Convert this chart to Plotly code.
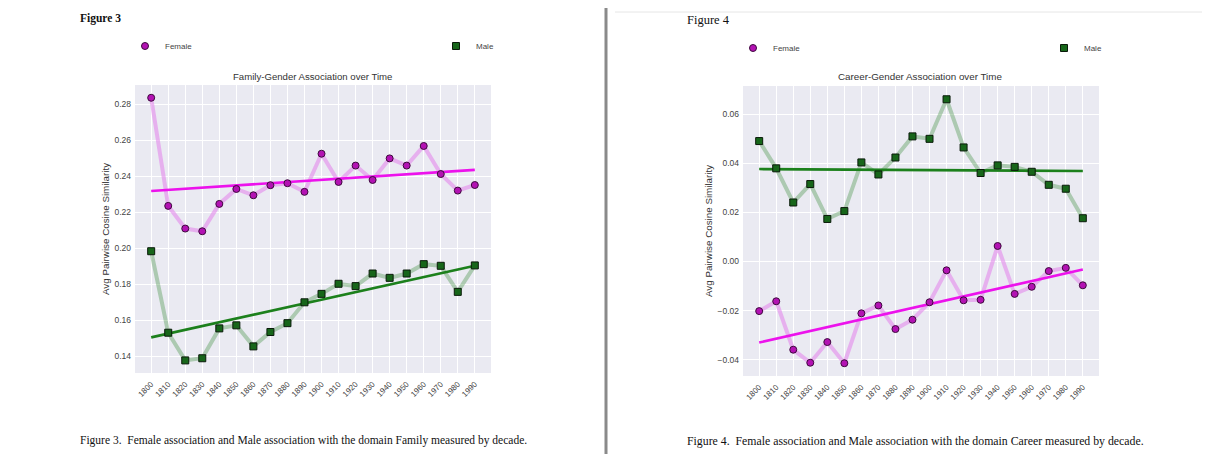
import plotly.graph_objects as go

W, H = 1210, 454
OFF = 8  # page body margin applied by the browser

decades = [1800, 1810, 1820, 1830, 1840, 1850, 1860, 1870, 1880, 1890,
           1900, 1910, 1920, 1930, 1940, 1950, 1960, 1970, 1980, 1990]
decade_labels = [str(d) for d in decades]

family_female = [0.2837, 0.2236, 0.2110, 0.2095, 0.2247, 0.2330, 0.2295, 0.2351, 0.2362, 0.2314,
                 0.2526, 0.2369, 0.2460, 0.2380, 0.2500, 0.2460, 0.2569, 0.2413, 0.2321, 0.2352]
family_male = [0.1984, 0.1531, 0.1377, 0.1389, 0.1555, 0.1572, 0.1455, 0.1535, 0.1584, 0.1700,
               0.1747, 0.1803, 0.1790, 0.1860, 0.1836, 0.1860, 0.1912, 0.1903, 0.1758, 0.1905]
career_female = [-0.0202, -0.0162, -0.0359, -0.0412, -0.0328, -0.0414, -0.0211, -0.0179, -0.0275, -0.0237,
                 -0.0166, -0.0036, -0.0158, -0.0156, 0.0063, -0.0132, -0.0103, -0.0039, -0.0026, -0.0097]
career_male = [0.0490, 0.0379, 0.0240, 0.0315, 0.0173, 0.0205, 0.0403, 0.0354, 0.0423, 0.0509,
               0.0499, 0.0660, 0.0464, 0.0360, 0.0391, 0.0385, 0.0365, 0.0312, 0.0296, 0.0176]

trend_x = [1800, 1990]
family_female_trend = [0.2319, 0.2436]
family_male_trend = [0.1505, 0.1903]
career_female_trend = [-0.0330, -0.0033]
career_male_trend = [0.0376, 0.0368]

FEM_LINE = "rgba(228,140,236,0.62)"
FEM_MARK = "#b312b3"
FEM_EDGE = "#3d0a3d"
FEM_TREND = "#ec12ec"
MAL_LINE = "rgba(40,130,40,0.32)"
MAL_MARK = "#17661a"
MAL_EDGE = "#0a1a0a"
MAL_TREND = "#1c801c"

fig = go.Figure()


def add_panel(xa, ya, fem, mal, fem_tr, mal_tr, leg_f, leg_m):
    fig.add_trace(go.Scatter(x=decades, y=fem, mode="lines", line=dict(color=FEM_LINE, width=4),
                             xaxis=xa, yaxis=ya, showlegend=False, hoverinfo="skip"))
    fig.add_trace(go.Scatter(x=decades, y=mal, mode="lines", line=dict(color=MAL_LINE, width=4),
                             xaxis=xa, yaxis=ya, showlegend=False, hoverinfo="skip"))
    fig.add_trace(go.Scatter(x=trend_x, y=fem_tr, mode="lines", line=dict(color=FEM_TREND, width=2.6),
                             xaxis=xa, yaxis=ya, showlegend=False))
    fig.add_trace(go.Scatter(x=trend_x, y=mal_tr, mode="lines", line=dict(color=MAL_TREND, width=2.6),
                             xaxis=xa, yaxis=ya, showlegend=False))
    fig.add_trace(go.Scatter(x=decades, y=fem, mode="markers", name="Female",
                             marker=dict(symbol="circle", size=7, color=FEM_MARK,
                                         line=dict(color=FEM_EDGE, width=1)),
                             xaxis=xa, yaxis=ya, legend=leg_f))
    fig.add_trace(go.Scatter(x=decades, y=mal, mode="markers", name="Male",
                             marker=dict(symbol="square", size=7, color=MAL_MARK,
                                         line=dict(color=MAL_EDGE, width=1)),
                             xaxis=xa, yaxis=ya, legend=leg_m))


add_panel("x", "y", family_female, family_male, family_female_trend, family_male_trend,
          "legend", "legend2")
add_panel("x2", "y2", career_female, career_male, career_female_trend, career_male_trend,
          "legend3", "legend4")


def px(x):
    return (x - OFF) / W


def py(y):
    return 1 - (y - OFF) / H


SANS = "Liberation Sans, Arial, sans-serif"
SERIF = "Liberation Serif, Times New Roman, serif"
TICKFONT = dict(family=SANS, size=8.5, color="#444")
xcommon = dict(tickmode="array", tickvals=decades, ticktext=decade_labels, tickangle=-45,
               range=[1790.5, 1999.5], showgrid=True, gridcolor="white", gridwidth=1,
               zeroline=False, showline=False, ticks="", ticklabelstandoff=4,
               tickfont=dict(family=SANS, size=8, color="#444"))
ycommon = dict(dtick=0.02, tickformat=".2f", showgrid=True, gridcolor="white", gridwidth=1,
               zeroline=False, showline=False, ticks="", ticklabelstandoff=3, tickfont=TICKFONT)


def leg(xc, yc):
    # symbol centre sits ~20px right of legend's left edge
    return dict(orientation="h", x=px(xc - 20), y=py(yc), xanchor="left", yanchor="middle",
                bgcolor="rgba(0,0,0,0)", borderwidth=0,
                font=dict(family=SANS, size=8, color="#444"))


fig.update_layout(
    width=W, height=H, margin=dict(l=0, r=0, t=0, b=0, autoexpand=False),
    paper_bgcolor="white", plot_bgcolor="#EAEAF2",
    xaxis=dict(domain=[px(135), px(491)], anchor="y", **xcommon),
    yaxis=dict(domain=[py(373), py(85)], anchor="x", range=[0.1307, 0.2908], **ycommon),
    xaxis2=dict(domain=[px(743), px(1099)], anchor="y2", **xcommon),
    yaxis2=dict(domain=[py(376), py(86)], anchor="x2", range=[-0.0466, 0.0714], **ycommon),
    legend=leg(145, 46),
    legend2=leg(456, 46),
    legend3=leg(753, 48),
    legend4=leg(1064, 48),
)

annotations = [
    dict(text="<b>Figure 3</b>", x=px(78), y=py(19), xanchor="left", yanchor="middle",
         font=dict(family=SERIF, size=11.5, color="#111")),
    dict(text="Figure 4", x=px(685), y=py(20), xanchor="left", yanchor="middle",
         font=dict(family=SERIF, size=12.5, color="#111")),
    dict(text="Family-Gender Association over Time", x=px(312), y=py(76), xanchor="center",
         yanchor="middle", font=dict(family=SANS, size=9.6, color="#333")),
    dict(text="Career-Gender Association over Time", x=px(920), y=py(77), xanchor="center",
         yanchor="middle", font=dict(family=SANS, size=9.8, color="#333")),
    dict(text="Avg Pairwise Cosine Similarity", x=px(105), y=py(229), textangle=-90,
         xanchor="center", yanchor="middle", font=dict(family=SANS, size=9.8, color="#333")),
    dict(text="Avg Pairwise Cosine Similarity", x=px(709), y=py(231), textangle=-90,
         xanchor="center", yanchor="middle", font=dict(family=SANS, size=9.8, color="#333")),
    dict(text="Figure 3.  Female association and Male association with the domain Family measured by decade.",
         x=px(78), y=py(440), xanchor="left", yanchor="middle",
         font=dict(family=SERIF, size=11.5, color="#111")),
    dict(text="Figure 4.  Female association and Male association with the domain Career measured by decade.",
         x=px(685), y=py(441), xanchor="left", yanchor="middle",
         font=dict(family=SERIF, size=11.8, color="#111")),
]
for a in annotations:
    a.update(xref="paper", yref="paper", showarrow=False)
fig.update_layout(annotations=annotations)

fig.add_shape(type="line", xref="paper", yref="paper", x0=px(606), x1=px(606), y0=py(0), y1=py(454),
              line=dict(color="#8a8a8a", width=3))
fig.add_shape(type="line", xref="paper", yref="paper", x0=px(60), x1=px(604), y0=py(7), y1=py(7),
              line=dict(color="#dddddd", width=1))
fig.add_shape(type="line", xref="paper", yref="paper", x0=px(615), x1=px(1210), y0=py(12), y1=py(12),
              line=dict(color="#e6e6e6", width=1))

fig.write_html("out.html")
